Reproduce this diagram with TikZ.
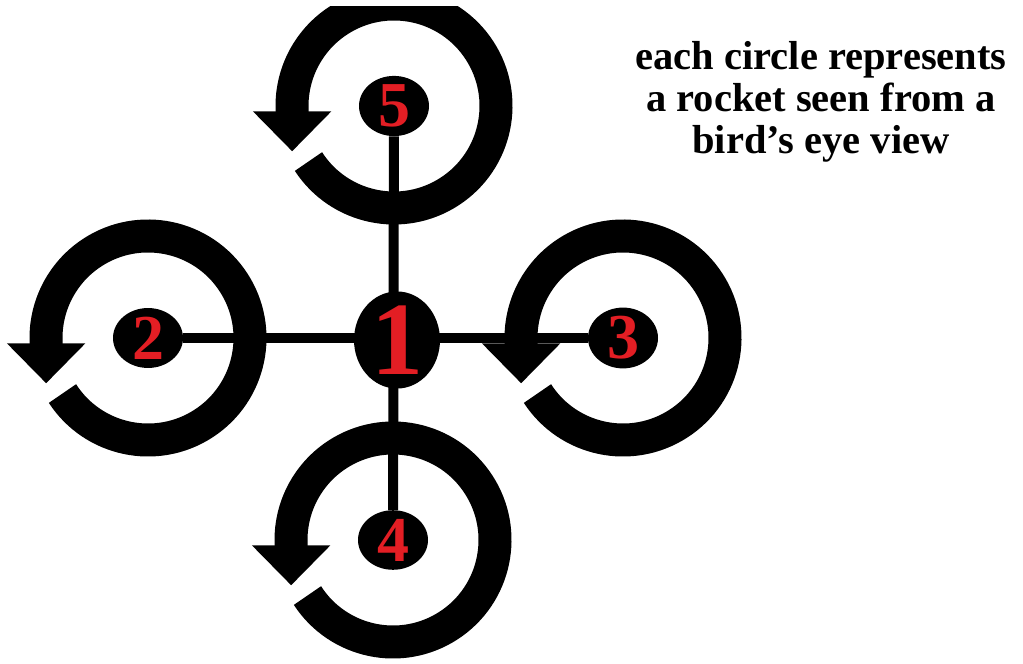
\documentclass[tikz,border=0pt]{standalone}
\usepackage{fontspec}
\setmainfont{Liberation Serif}
\usepackage{xcolor}
\usepackage{tikz}
\usetikzlibrary{shapes.geometric, arrows.meta, backgrounds}
\definecolor{rocketred}{HTML}{E31E24}
\definecolor{inkblack}{HTML}{000000}
\tikzstyle{rocket} = [ellipse, fill=inkblack, inner sep=0pt, minimum width=70pt, minimum height=58pt, text=rocketred, font=\bfseries\fontsize{64}{64}\selectfont]
\tikzstyle{hubnode} = [rocket, minimum width=86pt, minimum height=84pt, font=\bfseries\fontsize{104}{104}\selectfont]
\tikzstyle{arm} = [line width=10pt, draw=inkblack]
\tikzstyle{spin} = [line width=33pt, draw=inkblack, -{Triangle[width=76pt, length=40pt]}]
\tikzstyle{note} = [align=center, text=inkblack, font=\bfseries\fontsize{40.5}{42}\selectfont]

\begin{document}
\begin{tikzpicture}[x=1pt, y=1pt]
    \useasboundingbox (0,0) rectangle (1023,664);
    \clip (0,0) rectangle (1023,657);
    \node[hubnode] (hub) at (397,324) {1};
    \node[rocket] (r5) at (394,558) {5};
    \node[rocket] (r2) at (148,326) {2};
    \node[rocket] (r3) at (623,326) {3};
    \node[rocket] (r4) at (393,124) {4};
    \node[note] (note) at (821,562) {each circle represents\\a rocket seen from a\\bird’s eye view};

    \begin{scope}[on background layer]
        \draw[arm] (r2) -- (r3);
        \draw[arm] (r5) -- (r4);
    \end{scope}

    \foreach \r in {r2,r3,r4,r5}
        \draw[spin] ([shift={(213:102)}]\r.center) arc[start angle=213, end angle=543, radius=102] -- ++(0,-40);
\end{tikzpicture}
\end{document}
